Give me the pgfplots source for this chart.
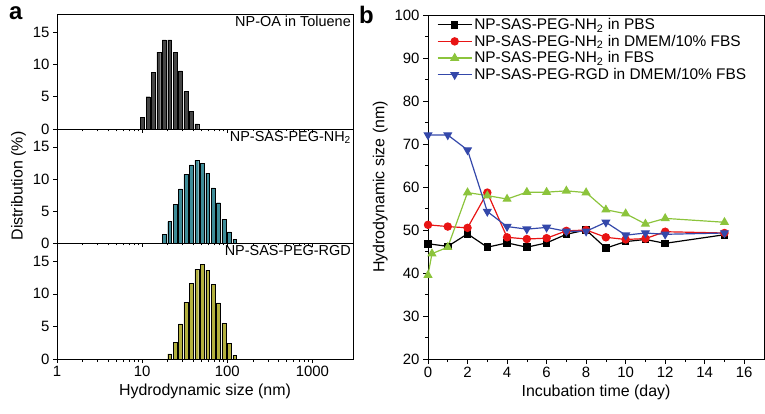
\documentclass[border=0pt]{standalone}
\usepackage{pgfplots}
\pgfplotsset{compat=1.18}
\usepackage{fontspec}
\setmainfont{Liberation Sans}
\definecolor{barteal}{RGB}{62,140,152}
\definecolor{barolive}{RGB}{178,176,62}
\definecolor{bargray}{RGB}{70,70,70}
\definecolor{lgreen}{RGB}{140,196,60}
\definecolor{lblue}{RGB}{52,72,170}
\definecolor{lred}{RGB}{232,20,20}
\pgfplotsset{
  distaxis/.style={
    scale only axis, width=296bp, height=115bp, anchor=south west,
    xmin=1, xmax=3000, ymin=0, ymax=17.8,
    ytick={0,5,10,15}, axis line style={line width=0.8pt},
    tick style={black, line width=0.6pt},
    ytick pos=left, xtick pos=bottom, tick align=outside,
    major tick length=4bp, minor tick length=2.5bp,
    xtick={1,10,100,1000},
    ticklabel style={font=\fontsize{15}{16}\selectfont},
    /pgf/number format/assume math mode=true,
  },
  distbar/.style={ybar, bar width=3.8bp, draw=black, line width=0.3pt},
}
\begin{document}
\begin{tikzpicture}
\path[use as bounding box] (0,0) rectangle (765bp,414bp);
% panel a, top
\begin{semilogxaxis}[distaxis, at={(57bp,285bp)}, xticklabels={}]
\addplot[distbar, fill=bargray] coordinates {
 (10.1,1.8) (11.7,5.0) (13.54,8.8) (15.69,11.9) (18.17,13.8) (21.04,13.8)
 (24.36,11.9) (28.21,9.0) (32.67,5.8) (37.84,2.7) (43.82,0.8)};
\node[anchor=north east, font=\fontsize{14.5}{16}\selectfont, inner sep=2bp] at (rel axis cs:1,1) {NP-OA in Toluene};
\end{semilogxaxis}
% panel a, middle
\begin{semilogxaxis}[distaxis, at={(57bp,171bp)}, height=114bp, xticklabels={},
  ylabel={Distribution (\%)}, ylabel style={font=\fontsize{16}{18}\selectfont}]
\addplot[distbar, fill=barteal] coordinates {
 (18.17,1.4) (21.04,3.35) (24.36,6.0) (28.21,8.45) (32.67,10.7) (37.84,12.2)
 (43.82,12.9) (50.75,12.4) (58.77,10.9) (68.06,8.6) (78.82,6.3) (91.28,3.7)
 (105.7,1.75) (122.4,0.6)};
\node[anchor=north east, font=\fontsize{14.5}{16}\selectfont, inner sep=2bp] at (rel axis cs:1,1) {NP-SAS-PEG-NH\textsubscript{2}};
\end{semilogxaxis}
% panel a, bottom
\begin{semilogxaxis}[distaxis, at={(57bp,55bp)}, height=116bp,
  xticklabels={1,10,100,1000},
  xlabel={Hydrodynamic size (nm)}, xlabel style={font=\fontsize{16}{18}\selectfont}]
\addplot[distbar, fill=barolive] coordinates {
 (21.04,0.8) (24.36,2.6) (28.21,5.4) (32.67,8.7) (37.84,11.6) (43.82,13.8)
 (50.75,14.5) (58.77,13.6) (68.06,11.5) (78.82,8.6) (91.28,5.5) (105.7,2.4)
 (122.4,0.6)};
\node[anchor=north east, font=\fontsize{14.5}{16}\selectfont, inner sep=2bp] at (rel axis cs:1,1) {NP-SAS-PEG-RGD};
\end{semilogxaxis}
% panel b
\begin{axis}[scale only axis, width=336bp, height=344bp, anchor=south west,
  at={(428bp,55bp)},
  xmin=0, xmax=17, ymin=20, ymax=100,
  xtick={0,2,...,16}, minor xtick={1,3,...,15},
  ytick={20,30,...,100}, minor ytick={25,35,...,95},
  axis line style={line width=0.8pt},
  tick style={black, line width=0.6pt},
  ytick pos=left, xtick pos=bottom, tick align=outside,
  major tick length=5bp, minor tick length=3bp,
  ticklabel style={font=\fontsize{15}{16}\selectfont},
  /pgf/number format/assume math mode=true,
  xlabel={Incubation time (day)}, ylabel={Hydrodynamic size (nm)},
  label style={font=\fontsize{16}{18}\selectfont},
  legend style={at={(0.025,0.998)}, anchor=north west, draw=none, fill=none,
    font=\fontsize{15.5}{16}\selectfont, row sep=0bp, inner sep=0.5bp},
  legend cell align=left,
  legend image code/.code={%
    \draw[mark repeat=2, mark phase=2] plot coordinates {(0bp,0bp) (17bp,0bp) (34bp,0bp)};},
  every axis plot/.append style={line width=1.2pt, mark size=3.6bp},
]
\addplot[black, mark=square*, mark size=3.2bp] coordinates {
 (0,46.8) (1,46.2) (2,49.1) (3,46) (4,47) (5,46) (6,47) (7,49) (8,50)
 (9,45.8) (10,47.3) (11,47.8) (12,46.9) (15,48.9)};
\addplot[lred, mark=*, mark options={fill=lred}] coordinates {
 (0,51.2) (1,50.8) (2,50.5) (3,58.7) (4,48.3) (5,47.9) (6,48.1) (7,49.8) (8,50)
 (9,48.3) (10,47.8) (11,48) (12,49.6) (15,49.3)};
\addplot[lgreen, mark=triangle*, mark size=4.2bp, mark options={fill=lgreen}] coordinates {
 (0,39.5) (0.2,44.5) (1,46) (2,58.7) (3,58) (4,57.2) (5,58.8) (6,58.8) (7,59.1)
 (8,58.7) (9,54.7) (10,53.8) (11,51.4) (12,52.7) (15,51.8)};
\addplot[lblue, mark=triangle*, mark size=4.2bp, mark options={fill=lblue, rotate=180}] coordinates {
 (0,72.1) (1,72.1) (2,68.6) (3,54.3) (4,50.8) (5,50.2) (6,50.6) (7,49.7) (8,49.7)
 (9,51.8) (10,48.8) (11,49.3) (12,49) (15,49.3)};
\legend{NP-SAS-PEG-NH\textsubscript{2} in PBS,
  NP-SAS-PEG-NH\textsubscript{2} in DMEM/10\% FBS,
  NP-SAS-PEG-NH\textsubscript{2} in FBS,
  NP-SAS-PEG-RGD in DMEM/10\% FBS}
\end{axis}
\node[anchor=north west, font=\fontsize{24}{26}\bfseries\selectfont, inner sep=0pt] at (9bp,408bp) {a};
\node[anchor=north west, font=\fontsize{24}{26}\bfseries\selectfont, inner sep=0pt] at (359bp,408bp) {b};
\end{tikzpicture}
\end{document}
